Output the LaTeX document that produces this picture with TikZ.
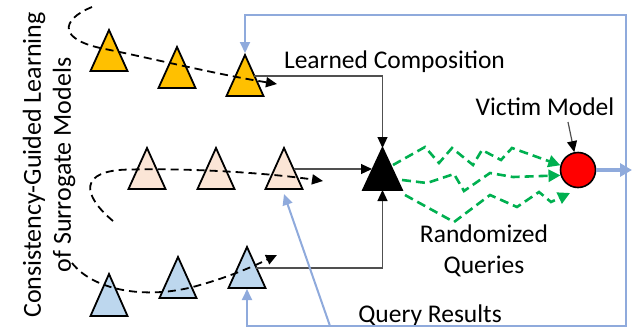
\documentclass[tikz,border=0pt]{standalone}
\usepackage{fontspec}
\setmainfont{Carlito}
\usetikzlibrary{arrows.meta,calc}
\definecolor{ylw}{RGB}{255,192,0}
\definecolor{pch}{RGB}{251,229,214}
\definecolor{lbl}{RGB}{189,215,238}
\definecolor{frm}{RGB}{143,170,220}
\definecolor{grn}{RGB}{0,176,80}
\definecolor{gry}{RGB}{80,80,80}
\newcommand\mytri[5]{% name, apex x, apex y, fill, height
  \coordinate (#1) at (#2,#3);
  \coordinate (#1-b) at (#2,#3+#5);
  \draw[tri, fill=#4] (#1) -- ++(18.5,#5) -- ++(-37,0) -- cycle;
}
\begin{document}
\begin{tikzpicture}[x=1pt, y=-1pt,
  tri/.style={line width=1.8pt, line join=miter},
  lbl/.style={font=\fontsize{25.5}{31.5}\selectfont, inner sep=0pt},
  conn/.style={gry, line width=1.2pt, -{Triangle[length=11pt,width=10pt,color=black,fill=black]}},
  curve/.style={black, line width=1.8pt, dash pattern=on 8pt off 5pt, -{Triangle[length=11pt,width=10pt]}},
  gpath/.style={grn, line width=2.6pt, dash pattern=on 9pt off 5pt, line join=miter, -{Triangle[length=12pt,width=12pt]}},
  fline/.style={frm, line width=2pt}
]
\useasboundingbox (0,0) rectangle (634,327);

% vertical title
\node[lbl, rotate=90, align=center, font=\fontsize{26}{30}\selectfont] (title) at (49,165)
  {Consistency-Guided Learning\\of Surrogate Models};

% triangles
\mytri{y1}{109}{30}{ylw}{41}
\mytri{y2}{177}{47}{ylw}{41}
\mytri{y3}{245}{55}{ylw}{41}
\mytri{p1}{147}{148}{pch}{41}
\mytri{p2}{216}{148}{pch}{41}
\mytri{p3}{284}{148}{pch}{41}
\mytri{b1}{109}{274}{lbl}{42}
\mytri{b2}{178}{257}{lbl}{41}
\mytri{b3}{247}{247}{lbl}{41}

% black composition triangle
\coordinate (blk) at (382.5,148);
\coordinate (blk-b) at (382.5,190);
\coordinate (blk-l) at (372,169);
\draw[tri, fill=black] (blk) -- ++(19.5,42) -- ++(-39,0) -- cycle;

% victim model
\node[circle, draw=black, line width=1.6pt, fill=red, minimum size=35pt, inner sep=0pt] (victim) at (578,170) {};

% labels
\node[lbl, anchor=base] (lc) at (394.5,68) {Learned Composition};
\node[lbl, anchor=base] (vm) at (545,115) {Victim Model};
\node[lbl, align=center, anchor=base] (rq) at (484,273.5) {Randomized\\Queries};
\node[lbl, anchor=base] (qr) at (430,322) {Query Results};

% dashed learning curves
\coordinate (c1s) at (92,7);
\coordinate (c1e) at (277,84);
\draw[curve] (c1s) .. controls (60,20) and (58,40) .. (105,49) .. controls (150,58) and (215,74) .. (c1e);
\coordinate (c2s) at (113,221);
\coordinate (c2e) at (323,181);
\draw[curve] (c2s) .. controls (82,195) and (78,170) .. (130,169.5) .. controls (200,168) and (275,174) .. (c2e);
\coordinate (c3s) at (72,263);
\coordinate (c3e) at (277,255);
\draw[curve] (c3s) .. controls (95,292) and (150,300) .. (200,285) .. controls (232,276) and (256,265) .. (c3e);

% composition connectors
\coordinate (y3r) at (254,76);
\coordinate (p3r) at (293.5,169);
\coordinate (b3r) at (256,268);
\draw[conn] (y3r) -| (blk);
\draw[conn] (p3r) -- (blk-l);
\draw[conn] (b3r) -| (blk-b);
\coordinate (vmp) at (568,122);
\draw[conn] (vmp) -- (victim);

% randomized queries
\coordinate (g1s) at (393,165);
\coordinate (g2s) at (402,180);
\coordinate (g3s) at (405,195);
\coordinate (g3e) at (570,193);
\draw[gpath] (g1s) -- (425,147) -- (439,163) -- (452,148) -- (473,165) -- (482,150) -- (501,160) -- (512,148) -- (victim.165);
\draw[gpath] (g2s) -- (427,183) -- (454,174) -- (464,191) -- (490,173) -- (513,177) -- (victim.197);
\draw[gpath] (g3s) -- (454,222) -- (490,195) -- (517,207) -- (539,192) -- (551,202) -- (g3e);

% query results feedback
\coordinate (fbl) at (247,326);
\coordinate (fbr) at (626,326);
\coordinate (ftr) at (626,15);
\coordinate (ftl) at (245,15);
\coordinate (fdiag) at (330,326);
\coordinate (qout) at (632,170);
\draw[fline, {Triangle[length=11pt,width=10pt]}-{Triangle[length=11pt,width=10pt]}]
  ($(b3-b)+(0,1)$) -- (fbl) -- (fbr) -- (ftr) -- (ftl) -- ($(y3)+(0,-2)$);
\draw[fline, -{Triangle[length=11pt,width=10pt]}] (fdiag) -- ($(p3-b)+(0,5)$);
\draw[frm, line width=4pt, -{Triangle[length=12pt,width=13pt]}] (victim) -- (qout);
\end{tikzpicture}
\end{document}
